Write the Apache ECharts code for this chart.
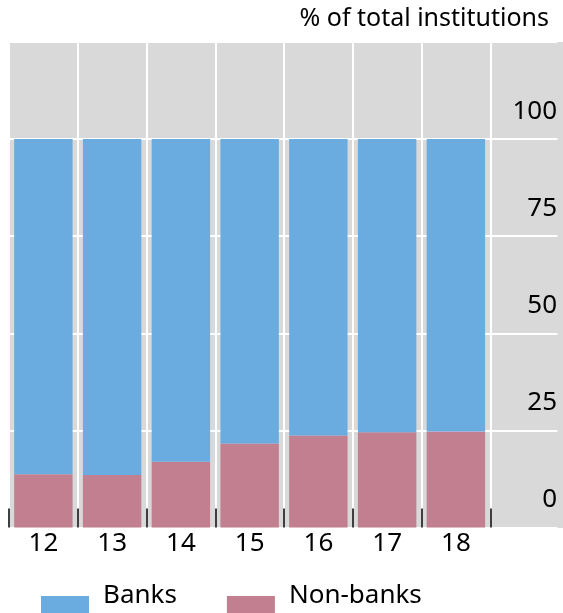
<!DOCTYPE html>
<html>
<head>
<meta charset="UTF-8">
<title>Banks and non-banks</title>
<script src="https://cdn.jsdelivr.net/npm/echarts@6/dist/echarts.min.js"></script>
<style>
  html, body { margin: 0; padding: 0; background: #fff; }
  #main { width: 563px; height: 613px; }
</style>
</head>
<body>
<div id="main"></div>
<script>
// years shown on the x axis (one empty slot on the right holds the y labels)
var years = ['12', '13', '14', '15', '16', '17', '18'];
// share of total institutions, %
var nonBanks = [13.7, 13.5, 16.9, 21.6, 23.7, 24.5, 24.7];
var banks = [86.3, 86.5, 83.1, 78.4, 76.3, 75.5, 75.3];
var yTicks = [0, 25, 50, 75, 100];

var font = '"Noto Sans", "Open Sans", sans-serif';
var chart = echarts.init(document.getElementById('main'));

var option = {
  backgroundColor: '#fff',
  animation: false,
  title: {
    text: '% of total institutions',
    right: 14,
    top: 6,
    padding: 0,
    textStyle: { fontFamily: font, fontSize: 25, fontWeight: 'normal', color: '#000' }
  },
  legend: {
    bottom: -1,
    left: 41,
    padding: 0,
    itemWidth: 48,
    itemHeight: 18,
    itemGap: 50,
    icon: 'rect',
    data: ['Banks', 'Non-banks'],
    formatter: '{t|{name}}',
    textStyle: {
      fontFamily: font, fontSize: 26, color: '#000',
      rich: { t: { fontFamily: font, fontSize: 26, color: '#000', padding: [0, 0, 18, 9] } }
    }
  },
  graphic: {
    elements: [{
      // right edge of the grey panel, also hides the last category boundary
      type: 'rect',
      zlevel: 1,
      z: 100,
      shape: { x: 557.5, y: 42, width: 6, height: 486 },
      style: { fill: '#d9d9d9' }
    }]
  },
  grid: {
    left: 9, right: 4, top: 42, bottom: 85.5,
    show: true, backgroundColor: '#d9d9d9', borderWidth: 0
  },
  xAxis: {
    type: 'category',
    data: years.concat(['']),
    axisLine: { show: false },
    axisTick: {
      show: true, inside: true, length: 19,
      lineStyle: { color: '#000', width: 1.5 }
    },
    axisLabel: { margin: 3, fontFamily: font, fontSize: 26, color: '#000' },
    splitLine: { show: true, lineStyle: { color: '#fff', width: 2 } }
  },
  yAxis: {
    type: 'value',
    position: 'right',
    min: 0, max: 125, interval: 25,
    axisLine: { show: false },
    axisTick: { show: false },
    axisLabel: {
      inside: true, margin: 2,
      fontFamily: font, fontSize: 26, color: '#000',
      formatter: function (v) { return yTicks.indexOf(v) >= 0 ? '{v|' + v + '}' : ''; },
      rich: { v: { fontFamily: font, fontSize: 26, color: '#000', padding: [0, 0, 56, 0] } }
    },
    splitLine: { show: true, lineStyle: { color: '#fff', width: 2 } }
  },
  series: [
    {
      name: 'Non-banks', type: 'bar', stack: 'total',
      barCategoryGap: '15%',
      itemStyle: { color: '#c27f8f' },
      data: nonBanks
    },
    {
      name: 'Banks', type: 'bar', stack: 'total',
      barCategoryGap: '15%',
      itemStyle: { color: '#6aace0' },
      data: banks
    }
  ]
};

chart.setOption(option);
</script>
</body>
</html>
